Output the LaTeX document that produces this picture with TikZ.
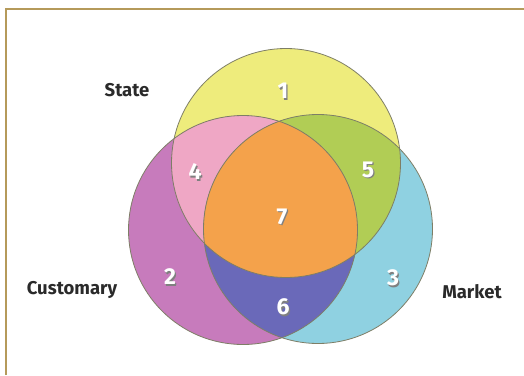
\documentclass[tikz,border=0pt]{standalone}
\usepackage{fontspec}
\setmainfont{Fira Sans}
\definecolor{frame}{HTML}{B59A5A}
\definecolor{cyel}{HTML}{EEEC7C}
\definecolor{cmag}{HTML}{C77BBC}
\definecolor{ccya}{HTML}{8FD1E1}
\definecolor{cpink}{HTML}{EFA7C5}
\definecolor{cgreen}{HTML}{B1CD55}
\definecolor{corange}{HTML}{F4A24B}
\definecolor{cblue}{HTML}{6A69B9}
\definecolor{cline}{HTML}{7E7E66}
\definecolor{labtxt}{HTML}{2A2A2A}
\tikzset{
  setlabel/.style={font=\fontsize{18.5}{20}\selectfont\bfseries, text=labtxt, inner sep=0pt},
  numtxt/.style={font=\fontsize{23}{25}\selectfont\bfseries, text=white, inner sep=0pt},
  numshadow/.style={font=\fontsize{23}{25}\selectfont\bfseries, text=black!50, inner sep=0pt},
  outline/.style={draw=cline, line width=0.8pt}
}
\begin{document}
\begin{tikzpicture}[x=1pt,y=-1pt]
\useasboundingbox (0,0) rectangle (524,375);
\fill[white] (0,0) rectangle (524,375);
% frame
\draw[frame, line width=1.6pt] (6,375) -- (6,9) -- (524,9);
% circle centres
\coordinate (cy) at (286,163);
\coordinate (cm) at (243,230);
\coordinate (cc) at (318,229);
\def\R{114.5}
% base fills
\fill[cyel] (cy) circle[radius=\R];
\fill[cmag] (cm) circle[radius=\R];
\fill[ccya] (cc) circle[radius=\R];
% pairwise intersections
\begin{scope}
  \clip (cy) circle[radius=\R];
  \fill[cpink] (cm) circle[radius=\R];
  \fill[cgreen] (cc) circle[radius=\R];
\end{scope}
\begin{scope}
  \clip (cm) circle[radius=\R];
  \fill[cblue] (cc) circle[radius=\R];
\end{scope}
\begin{scope}
  \clip (cy) circle[radius=\R];
  \clip (cm) circle[radius=\R];
  \fill[corange] (cc) circle[radius=\R];
\end{scope}
% outlines
\draw[outline] (cy) circle[radius=\R];
\draw[outline] (cm) circle[radius=\R];
\draw[outline] (cc) circle[radius=\R];
% numbers
\foreach \n/\x/\y in {1/283/91, 4/195/172, 5/368/170, 7/282/217, 2/170/277, 6/283/307, 3/393/278}{
  \node[numshadow] (s\n) at (\x+1.3,\y+1.3) {\n};
  \node[numtxt] (n\n) at (\x,\y) {\n};
}
% labels
\node[setlabel] (state) at (127,90) {State};
\node[setlabel] (cust) at (72,290) {Customary};
\node[setlabel] (market) at (472,292) {Market};
\end{tikzpicture}
\end{document}
